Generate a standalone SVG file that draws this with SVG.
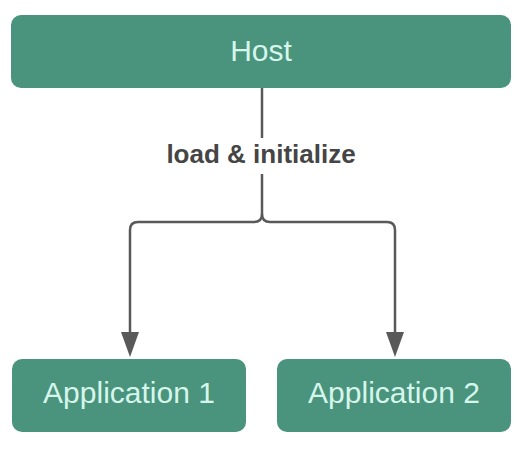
<svg xmlns="http://www.w3.org/2000/svg" width="524" height="450" viewBox="0 0 524 450">
<style>
.box{fill:#4a937c;}
.lbl{font-family:"Liberation Sans",Arial,sans-serif;font-size:30px;fill:#d6f6ec;text-anchor:middle;}
.conn{fill:none;stroke:#595959;stroke-width:2.5;}
.head{fill:#595959;}
.clbl{font-family:"Liberation Sans",Arial,sans-serif;font-size:26px;font-weight:bold;fill:#454545;text-anchor:middle;}
</style>
<rect width="524" height="450" fill="#ffffff"/>
<g id="connectors">
<path class="conn" d="M262,88 V138"/>
<path class="conn" d="M262,174 V214 Q262,222 254,222 H138 Q130,222 130,230 V334"/>
<path class="conn" d="M262,214 Q262,222 270,222 H387 Q395,222 395,230 V334"/>
<path class="head" d="M121,332 L139,332 L130,357 Z"/>
<path class="head" d="M386,332 L404,332 L395,357 Z"/>
<text class="clbl" x="261" y="163">load &amp; initialize</text>
</g>
<g id="host">
<rect class="box" x="11" y="15" width="500" height="73" rx="10"/>
<text class="lbl" x="261" y="61">Host</text>
</g>
<g id="app1">
<rect class="box" x="12" y="359" width="234" height="73" rx="10"/>
<text class="lbl" x="129" y="403">Application 1</text>
</g>
<g id="app2">
<rect class="box" x="277" y="359" width="234" height="73" rx="10"/>
<text class="lbl" x="394" y="403">Application 2</text>
</g>
</svg>
